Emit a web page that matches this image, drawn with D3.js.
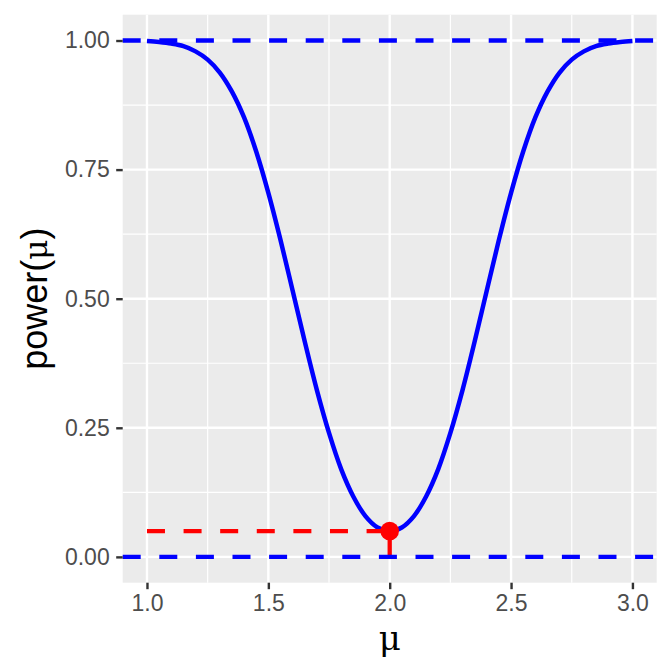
<!DOCTYPE html>
<html><head><meta charset="utf-8">
<script src="https://cdn.jsdelivr.net/npm/d3@7"></script>
<style>body{margin:0;background:#fff}svg{display:block}</style>
</head><body>
<svg id="c" width="672" height="672"></svg>
<script>
// data
const muValues = [1.00,1.05,1.10,1.15,1.20,1.25,1.30,1.35,1.40,1.45,1.50,1.55,1.60,1.65,1.70,1.75,1.80,1.85,1.90,1.95,2.00,
                  2.05,2.10,2.15,2.20,2.25,2.30,2.35,2.40,2.45,2.50,2.55,2.60,2.65,2.70,2.75,2.80,2.85,2.90,2.95,3.00];
const powerValues = [0.999,0.997,0.994,0.989,0.979,0.963,0.938,0.901,0.851,0.785,0.705,0.614,0.516,0.417,0.323,0.240,0.170,0.117,0.079,0.057,0.050,
                     0.057,0.079,0.117,0.170,0.240,0.323,0.417,0.516,0.614,0.705,0.785,0.851,0.901,0.938,0.963,0.979,0.989,0.994,0.997,0.999];
const hLines = [0, 1];
const nullMu = 2.0;
const alphaLevel = 0.05;
const xTicks = [1.0, 1.5, 2.0, 2.5, 3.0];
const xMinor = [1.25, 1.75, 2.25, 2.75];
const yTicks = [0, 0.25, 0.5, 0.75, 1.0];
const yMinor = [0.125, 0.375, 0.625, 0.875];

const svg = d3.select("#c");
const L = 122.7, R = 656.7, T = 14.7, B = 582.7;
const x = d3.scaleLinear().domain([0.9, 3.1]).range([L, R]);
const y = d3.scaleLinear().domain([-0.05, 1.05]).range([B, T]);

svg.append("rect").attr("x", L).attr("y", T).attr("width", R - L).attr("height", B - T).attr("fill", "#ebebeb");

const g = svg.append("g");
g.selectAll(".vminor").data(xMinor).join("line")
  .attr("x1", d => x(d)).attr("x2", d => x(d)).attr("y1", T).attr("y2", B)
  .attr("stroke", "#fff").attr("stroke-width", 1.2);
g.selectAll(".hminor").data(yMinor).join("line")
  .attr("y1", d => y(d)).attr("y2", d => y(d)).attr("x1", L).attr("x2", R)
  .attr("stroke", "#fff").attr("stroke-width", 1.2);
g.selectAll(".vmajor").data(xTicks).join("line")
  .attr("x1", d => x(d)).attr("x2", d => x(d)).attr("y1", T).attr("y2", B)
  .attr("stroke", "#fff").attr("stroke-width", 2.4);
g.selectAll(".hmajor").data(yTicks).join("line")
  .attr("y1", d => y(d)).attr("y2", d => y(d)).attr("x1", L).attr("x2", R)
  .attr("stroke", "#fff").attr("stroke-width", 2.4);

// power curve
const pts = muValues.map((m, i) => [m, powerValues[i]]);
svg.append("path").datum(pts)
  .attr("d", d3.line().x(d => x(d[0])).y(d => y(d[1])).curve(d3.curveCatmullRom.alpha(0.5)))
  .attr("fill", "none").attr("stroke", "#0000ff").attr("stroke-width", 4.5).attr("stroke-linejoin", "round");

// red reference segments
svg.append("line").attr("x1", x(1.0)).attr("x2", x(nullMu)).attr("y1", y(alphaLevel)).attr("y2", y(alphaLevel))
  .attr("stroke", "#ff0000").attr("stroke-width", 4.3).attr("stroke-dasharray", "18,18.6");
svg.append("line").attr("x1", x(nullMu)).attr("x2", x(nullMu)).attr("y1", y(0)).attr("y2", y(alphaLevel))
  .attr("stroke", "#ff0000").attr("stroke-width", 4.3).attr("stroke-dasharray", "18,18.6");

// blue dashed hlines
svg.selectAll(".hl").data(hLines).join("line")
  .attr("x1", L).attr("x2", R).attr("y1", d => y(d)).attr("y2", d => y(d))
  .attr("stroke", "#0000ff").attr("stroke-width", 4.3).attr("stroke-dasharray", "18,18.6");

// point
svg.append("circle").attr("cx", x(nullMu)).attr("cy", y(alphaLevel)).attr("r", 9.3).attr("fill", "#ff0000");

// axes
const xAxis = svg.append("g").attr("transform", `translate(0,${B})`)
  .call(d3.axisBottom(x).tickValues(xTicks).tickFormat(d3.format(".1f")).tickSize(6.5).tickPadding(5));
const yAxis = svg.append("g").attr("transform", `translate(${L},0)`)
  .call(d3.axisLeft(y).tickValues(yTicks).tickFormat(d3.format(".2f")).tickSize(6.5).tickPadding(6.5));
[xAxis, yAxis].forEach(a => {
  a.attr("font-size", 23).attr("font-family", "Liberation Sans, Arial, sans-serif");
  a.select(".domain").remove();
  a.selectAll(".tick line").attr("stroke", "#333333").attr("stroke-width", 2.4);
  a.selectAll(".tick text").attr("fill", "#4d4d4d");
});

svg.append("text").attr("x", (L + R) / 2).attr("y", 650).attr("text-anchor", "middle")
  .style("font-family", "DejaVu Serif, serif").style("font-size", "34px").text("μ");
svg.append("text").attr("transform", `translate(47,${(T + B) / 2}) rotate(-90)`).attr("text-anchor", "middle")
  .style("font-family", "Liberation Sans, Arial, sans-serif").style("font-size", "36px")
  .html('power(<tspan style="font-family:DejaVu Serif, serif;font-size:31px">μ</tspan>)');
</script>
</body></html>
